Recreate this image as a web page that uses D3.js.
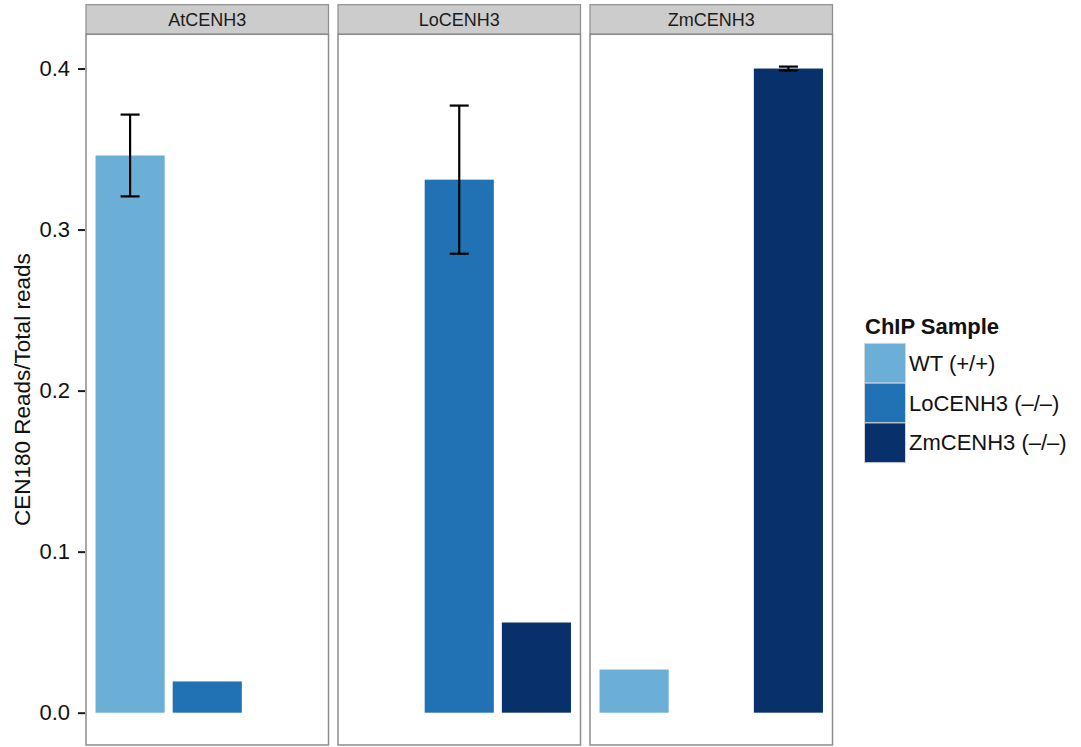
<!DOCTYPE html>
<html>
<head>
<meta charset="utf-8">
<script src="https://cdn.jsdelivr.net/npm/d3@7"></script>
<style>
  html, body { margin: 0; padding: 0; background: #ffffff; }
  svg { display: block; font-family: "Liberation Sans", Arial, Helvetica, sans-serif; }
</style>
</head>
<body>
<svg id="chart" width="1081" height="747"></svg>
<script>
// Facets (antibody used for ChIP) and fill levels (plant genotype)
const panels = ["AtCENH3", "LoCENH3", "ZmCENH3"];
const samples = ["WT (+/+)", "LoCENH3 (\u2013/\u2013)", "ZmCENH3 (\u2013/\u2013)"];
const sampleColors = ["#6baed6", "#2171b5", "#08306b"];

// One entry per bar
const barPanel  = ["AtCENH3", "AtCENH3", "LoCENH3", "LoCENH3", "ZmCENH3", "ZmCENH3"];
const barSample = ["WT (+/+)", "LoCENH3 (\u2013/\u2013)", "LoCENH3 (\u2013/\u2013)", "ZmCENH3 (\u2013/\u2013)", "WT (+/+)", "ZmCENH3 (\u2013/\u2013)"];
const meanRatio = [0.346, 0.0194, 0.331, 0.056, 0.0268, 0.400];
const errHalf   = [0.0254, null, 0.046, null, null, 0.0012];

const yTicks = [0.0, 0.1, 0.2, 0.3, 0.4];
const yTitle = "CEN180 Reads/Total reads";
const legendTitle = "ChIP Sample";

const bars = barPanel.map((p, i) => ({
  panel: p, sample: barSample[i], value: meanRatio[i], err: errHalf[i]
}));

const svg = d3.select("#chart");

// Layout
const panelLeft0 = 86, panelW = 242.5, panelGap = 9.5;
const stripTop = 4.7, stripBottom = 34.3, panelBottom = 745;

const panelX = d3.scaleBand()
  .domain(panels)
  .range([panelLeft0, panelLeft0 + 3 * panelW + 2 * panelGap])
  .paddingInner(panelGap / (panelW + panelGap))
  .paddingOuter(0);

// y range with 5% expansion around [0, max upper bound]
const yMaxData = d3.max(bars, d => d.value + (d.err || 0));
const yPad = 0.05 * yMaxData;
const y = d3.scaleLinear()
  .domain([-yPad, yMaxData + yPad])
  .range([panelBottom, stripBottom]);

const color = d3.scaleOrdinal().domain(samples).range(sampleColors);

// Panels
panels.forEach(p => {
  const x0 = panelX(p), w = panelX.bandwidth();
  const g = svg.append("g");

  // strip
  g.append("rect")
    .attr("x", x0).attr("y", stripTop)
    .attr("width", w).attr("height", stripBottom - stripTop)
    .attr("fill", "#cccccc").attr("stroke", "#8c8c8c").attr("stroke-width", 1.2);
  g.append("text")
    .attr("x", x0 + w / 2).attr("y", (stripTop + stripBottom) / 2)
    .attr("text-anchor", "middle").attr("dominant-baseline", "central")
    .attr("font-size", 18).attr("fill", "#1a1a1a")
    .text(p);

  // panel background
  g.append("rect")
    .attr("x", x0).attr("y", stripBottom)
    .attr("width", w).attr("height", panelBottom - stripBottom)
    .attr("fill", "#ffffff");

  // dodged position within the panel
  const xs = d3.scaleBand()
    .domain(samples)
    .range([x0, x0 + w])
    .paddingInner(0.104)
    .paddingOuter(0.1234);

  const pb = bars.filter(d => d.panel === p);

  g.selectAll("rect.bar").data(pb).enter().append("rect")
    .attr("class", "bar")
    .attr("x", d => xs(d.sample))
    .attr("width", xs.bandwidth())
    .attr("y", d => y(d.value))
    .attr("height", d => y(0) - y(d.value))
    .attr("fill", d => color(d.sample));

  const eb = pb.filter(d => d.err != null);
  const capHalf = 9.5;
  const ebG = g.selectAll("g.err").data(eb).enter().append("g")
    .attr("class", "err")
    .attr("stroke", "#000").attr("stroke-width", 2.2).attr("fill", "none");
  ebG.append("line")
    .attr("x1", d => xs(d.sample) + xs.bandwidth() / 2)
    .attr("x2", d => xs(d.sample) + xs.bandwidth() / 2)
    .attr("y1", d => y(d.value + d.err))
    .attr("y2", d => y(d.value - d.err));
  ebG.append("line")
    .attr("x1", d => xs(d.sample) + xs.bandwidth() / 2 - capHalf)
    .attr("x2", d => xs(d.sample) + xs.bandwidth() / 2 + capHalf)
    .attr("y1", d => y(d.value + d.err))
    .attr("y2", d => y(d.value + d.err));
  ebG.append("line")
    .attr("x1", d => xs(d.sample) + xs.bandwidth() / 2 - capHalf)
    .attr("x2", d => xs(d.sample) + xs.bandwidth() / 2 + capHalf)
    .attr("y1", d => y(d.value - d.err))
    .attr("y2", d => y(d.value - d.err));

  // panel border
  g.append("rect")
    .attr("x", x0).attr("y", stripBottom)
    .attr("width", w).attr("height", panelBottom - stripBottom)
    .attr("fill", "none").attr("stroke", "#8c8c8c").attr("stroke-width", 1.5);
});

// y axis
const yAxis = d3.axisLeft(y)
  .tickValues(yTicks)
  .tickFormat(d3.format(".1f"))
  .tickSize(7)
  .tickPadding(8);

const yAxisG = svg.append("g")
  .attr("transform", `translate(${panelLeft0 - 1},0)`)
  .call(yAxis);
yAxisG.select(".domain").remove();
yAxisG.selectAll(".tick line").attr("stroke", "#1a1a1a").attr("stroke-width", 2);
yAxisG.selectAll(".tick text")
  .attr("font-size", 22)
  .attr("fill", "#111")
  .attr("font-family", "'Liberation Sans', Arial, sans-serif");

// y title
svg.append("text")
  .attr("transform", `translate(30, ${(stripBottom + panelBottom) / 2}) rotate(-90)`)
  .attr("text-anchor", "middle")
  .attr("font-size", 22.5)
  .attr("fill", "#111")
  .text(yTitle);

// legend
const lx = 864.5, ly = 343.3, keyW = 41, keyH = 39.8;
const leg = svg.append("g");
leg.append("text")
  .attr("x", 865).attr("y", 334)
  .attr("font-size", 22).attr("font-weight", "bold").attr("fill", "#111")
  .text(legendTitle);

samples.forEach((s, i) => {
  leg.append("rect")
    .attr("x", lx).attr("y", ly + i * keyH)
    .attr("width", keyW).attr("height", keyH)
    .attr("fill", color(s))
    .attr("stroke", "#d6d6d6").attr("stroke-width", 1);
  leg.append("text")
    .attr("x", 909).attr("y", ly + i * keyH + keyH / 2)
    .attr("dominant-baseline", "central")
    .attr("font-size", 22).attr("fill", "#111")
    .text(s);
});
</script>
</body>
</html>
